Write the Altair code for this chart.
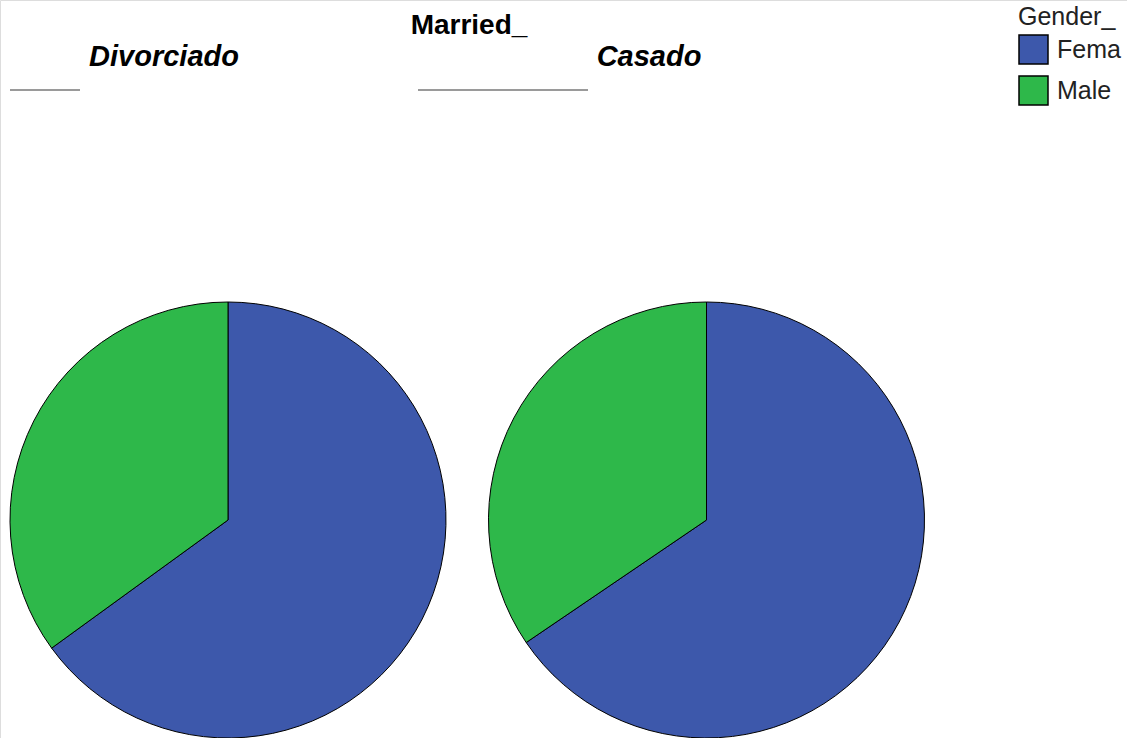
import altair as alt
import pandas as pd
import math

married = ["Divorciado", "Divorciado", "Casado", "Casado"]
gender = ["Female", "Male", "Female", "Male"]
percent = [65.0, 35.0, 65.5, 34.5]
order = [0, 1, 0, 1]

married_domain = ["Divorciado", "Casado"]
gender_domain = ["Female", "Male"]
colors = ["#3D58AB", "#2EB84A"]

df = pd.DataFrame({"Married_": married, "Gender_": gender, "pct": percent, "ord": order})

base = alt.Chart(df)

pies = base.transform_window(
    cum="sum(pct)", groupby=["Married_"], sort=[alt.SortField("ord")],
    frame=[None, 0]
).transform_calculate(
    start="datum.cum - datum.pct"
).mark_arc(stroke="black", strokeWidth=1).encode(
    x=alt.X("Married_:O", scale=alt.Scale(type="point", domain=married_domain,
                                           range=[228, 706.5], padding=0), axis=None),
    y=alt.value(520),
    theta=alt.Theta("start:Q", scale=alt.Scale(domain=[0, 100], range=[0, 2 * math.pi]), stack=None),
    theta2="cum:Q",
    radius=alt.value(218),
    color=alt.Color("Gender_:N", scale=alt.Scale(domain=gender_domain, range=colors),
                    legend=alt.Legend(
                        title="Gender_", orient="none", legendX=1018, legendY=5,
                        symbolType="square", symbolSize=841, symbolStrokeColor="black",
                        symbolStrokeWidth=1.5, symbolOpacity=1,
                        labelFontSize=25, titleFontSize=25, titleFontWeight="normal",
                        labelFont="Liberation Sans", titleFont="Liberation Sans",
                        titleColor="#222", labelColor="#222", rowPadding=6,
                        labelOffset=8, titlePadding=4, labelLimit=200,
                        labelExpr="substring(datum.label, 0, 4)")),
)

title_txt = alt.Chart(pd.DataFrame({"t": ["Married_"]})).mark_text(
    font="Liberation Sans", fontSize=28, fontWeight="bold", color="black", baseline="alphabetic"
).encode(x=alt.value(469), y=alt.value(34), text="t:N")

hdr_left = alt.Chart(pd.DataFrame({"t": [married_domain[0]]})).mark_text(
    font="Liberation Sans", fontSize=29, fontWeight="bold", fontStyle="italic",
    color="black", baseline="alphabetic"
).encode(x=alt.value(164), y=alt.value(66), text="t:N")

hdr_right = alt.Chart(pd.DataFrame({"t": [married_domain[1]]})).mark_text(
    font="Liberation Sans", fontSize=29, fontWeight="bold", fontStyle="italic",
    color="black", baseline="alphabetic"
).encode(x=alt.value(649), y=alt.value(66), text="t:N")

line_left = alt.Chart(pd.DataFrame({"a": [0]})).mark_rule(color="#9a9a9a", strokeWidth=2).encode(
    x=alt.value(10), x2=alt.value(80), y=alt.value(90))
line_right = alt.Chart(pd.DataFrame({"a": [0]})).mark_rule(color="#9a9a9a", strokeWidth=2).encode(
    x=alt.value(418), x2=alt.value(588), y=alt.value(90))

chart = alt.layer(pies, title_txt, hdr_left, hdr_right, line_left, line_right).properties(
    width=1127, height=738, padding=0,
    autosize=alt.AutoSizeParams(type="none"),
).configure_view(stroke=None).configure(background="white")

chart.save("out.html", embed_options={"renderer": "svg", "actions": False})
